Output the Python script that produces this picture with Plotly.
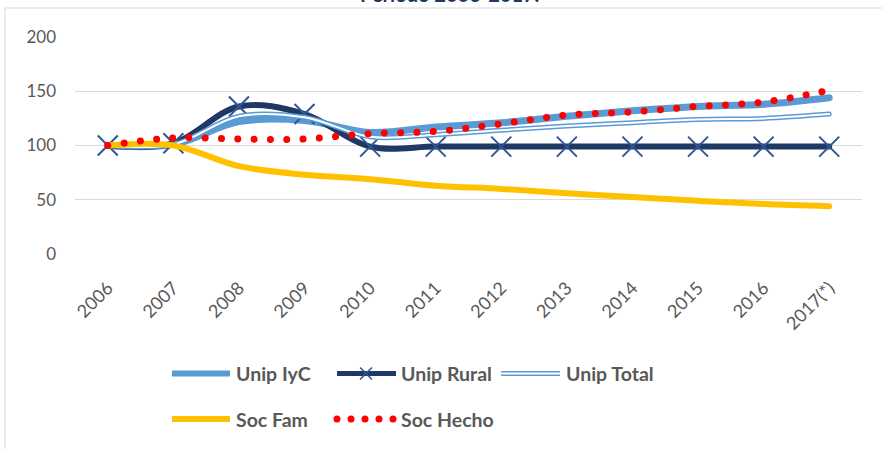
import plotly.graph_objects as go

years = ["2006", "2007", "2008", "2009", "2010", "2011", "2012", "2013", "2014", "2015", "2016", "2017(*)"]
unip_iyc = [100, 101, 122, 123, 112, 117, 121, 127, 132, 136, 138, 144]
unip_rural = [100, 102, 136, 129, 99, 99, 99, 99, 99, 99, 99, 99]
unip_total = [100, 101, 127, 126, 108, 110, 114, 118, 121, 124, 125, 129]
soc_fam = [100, 100, 81, 73, 69, 63, 60, 56, 52.5, 49, 46, 44]
soc_hecho = [100, 107, 106, 106, 111, 113, 120, 128, 131, 136, 140, 151]

title_text = "Período 2006-2017."

C_IYC = "#5B9BD5"
C_RURAL = "#1F3864"
C_X = "#2F5597"
C_FAM = "#FFC000"
C_HECHO = "#FF0000"
GRAY = "#595959"
FONT = "Lato"

W, H = 882, 449
L, T, PW, PH = 75, 37, 787, 217
B = H - T - PH


def px(x):
    return (x - L) / PW


def py(y):
    return (T + PH - y) / PH


fig = go.Figure()
fig.add_trace(go.Scatter(x=years, y=unip_iyc, mode="lines", name="Unip IyC",
                         line=dict(color=C_IYC, width=7, shape="spline")))
fig.add_trace(go.Scatter(x=years, y=unip_rural, mode="lines+markers", name="Unip Rural",
                         line=dict(color=C_RURAL, width=6, shape="spline"),
                         marker=dict(symbol="x-thin", size=20, color=C_X,
                                     line=dict(color=C_X, width=2))))
fig.add_trace(go.Scatter(x=years, y=unip_total, mode="lines", name="Unip Total",
                         line=dict(color=C_IYC, width=5, shape="spline")))
fig.add_trace(go.Scatter(x=years, y=unip_total, mode="lines", name="Unip Total inner",
                         line=dict(color="white", width=2, shape="spline")))
fig.add_trace(go.Scatter(x=years, y=soc_fam, mode="lines", name="Soc Fam",
                         line=dict(color=C_FAM, width=6, shape="spline")))
fig.add_trace(go.Scatter(x=years, y=soc_hecho, mode="lines", name="Soc Hecho",
                         line=dict(color=C_HECHO, width=7, shape="spline", dash="0.01px,16.3px")))

shapes = []
annotations = []

# outer chart frame
shapes.append(dict(type="rect", xref="paper", yref="paper",
                   x0=px(5), x1=px(900), y0=py(8), y1=py(470),
                   line=dict(color="#D9D9D9", width=1), fillcolor="rgba(0,0,0,0)", layer="below"))

# title (mostly cropped at the top)
annotations.append(dict(text="<b>" + title_text + "</b>", xref="paper", yref="paper",
                        x=px(449), y=py(8), xanchor="center", yanchor="bottom", showarrow=False,
                        font=dict(family=FONT, size=20, color="#203864")))

# manual legend
row1, row2 = 373.5, 419
lg_font = dict(family=FONT, size=19.5, color=GRAY)


def leg_line(x0, x1, yy, color, width):
    shapes.append(dict(type="line", xref="paper", yref="paper",
                       x0=px(x0), x1=px(x1), y0=py(yy), y1=py(yy),
                       line=dict(color=color, width=width)))


def leg_text(x0, yy, text):
    annotations.append(dict(text="<b>" + text + "</b>", xref="paper", yref="paper",
                            x=px(x0), y=py(yy), xanchor="left", yanchor="middle",
                            showarrow=False, font=lg_font))


leg_line(172, 230, row1, C_IYC, 6)
leg_text(234, row1, "Unip IyC")

leg_line(337, 396, row1, C_RURAL, 5)
for sgn in (1, -1):
    shapes.append(dict(type="line", xref="paper", yref="paper",
                       x0=px(366 - 6), x1=px(366 + 6), y0=py(row1 - 6 * sgn), y1=py(row1 + 6 * sgn),
                       line=dict(color=C_X, width=1.6)))
leg_text(399, row1, "Unip Rural")

leg_line(501, 560, row1, C_IYC, 5)
leg_line(501, 560, row1, "white", 2)
leg_text(564, row1, "Unip Total")

leg_line(172, 230, row2, C_FAM, 6)
leg_text(234, row2, "Soc Fam")

for cx in (337, 351, 365, 379, 393):
    r = 3.5
    shapes.append(dict(type="circle", xref="paper", yref="paper",
                       x0=px(cx - r), x1=px(cx + r), y0=py(row2 - r), y1=py(row2 + r),
                       line=dict(width=0), fillcolor=C_HECHO))
leg_text(399, row2, "Soc Hecho")

fig.update_layout(
    width=W, height=H,
    margin=dict(l=L, r=W - L - PW, t=T, b=B, autoexpand=False),
    paper_bgcolor="white", plot_bgcolor="white",
    showlegend=False,
    shapes=shapes, annotations=annotations,
    font=dict(family=FONT, color=GRAY),
    xaxis=dict(type="category", range=[-0.5, 11.5], tickangle=-45, showgrid=False,
               zeroline=False, showline=False, ticks="", ticklabelstandoff=19,
               automargin=False, tickfont=dict(family=FONT, size=18, color=GRAY)),
    yaxis=dict(range=[0, 200], dtick=50, showgrid=True, gridcolor="#D9D9D9", gridwidth=1,
               zeroline=False, showline=False, ticks="", ticklabelstandoff=18, automargin=False,
               tickfont=dict(family=FONT, size=17, color=GRAY)),
)

post = """
document.body.style.margin='0';
document.querySelectorAll('.scatterlayer path.js-line').forEach(function(p){
  p.style.strokeLinecap='round'; p.style.strokeLinejoin='round';
});
"""
fig.write_html("out.html", post_script=post, config={"displayModeBar": False})
